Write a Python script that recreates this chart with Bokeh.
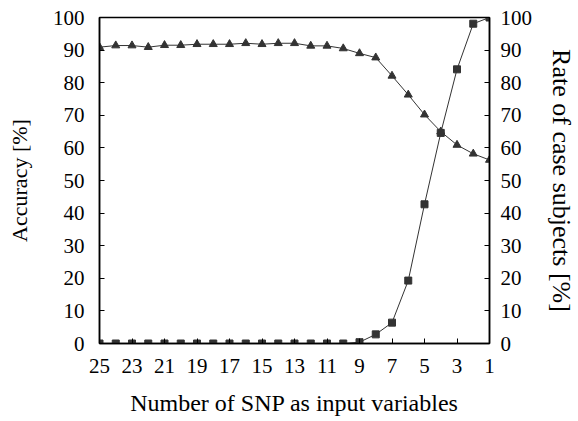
from bokeh.plotting import figure
from bokeh.models import Range1d, LinearAxis, FixedTicker
from bokeh.embed import file_html
from bokeh.resources import INLINE

snp = [25, 24, 23, 22, 21, 20, 19, 18, 17, 16, 15, 14, 13, 12, 11, 10, 9, 8, 7, 6, 5, 4, 3, 2, 1]
accuracy = [90.9, 91.4, 91.4, 90.9, 91.5, 91.5, 91.8, 91.8, 91.8, 92.1, 91.8, 92.1, 92.1, 91.3, 91.3,
            90.5, 89.0, 87.7, 82.1, 76.3, 70.2, 65.0, 60.9, 58.2, 56.3]
rate = [0, 0, 0, 0, 0, 0, 0, 0, 0, 0, 0, 0, 0, 0, 0, 0, 0.4, 2.8, 6.4, 19.3, 42.7, 64.6, 84.1, 98.1, 100]
x_ticks = [25, 23, 21, 19, 17, 15, 13, 11, 9, 7, 5, 3, 1]
y_ticks = [0, 10, 20, 30, 40, 50, 60, 70, 80, 90, 100]

FONT = "Liberation Serif"
INK = "#333333"
W, H = 578, 419
FL, FT, FW, FH = 99, 17, 390, 326   # frame placement on the canvas

p = figure(width=W, height=H, frame_width=FW, frame_height=FH,
           min_border_left=FL, min_border_right=W - FL - FW, min_border_top=FT,
           min_border_bottom=H - FT - FH,
           x_range=Range1d(25, 1), y_range=Range1d(0, 100),
           output_backend="svg", toolbar_location=None)
p.extra_y_ranges = {"right": Range1d(0, 100)}
p.grid.visible = False
p.outline_line_color = "black"
p.outline_line_width = 1.5
p.background_fill_color = "white"
p.border_fill_color = "white"

p.line(snp, accuracy, line_color=INK, line_width=1)
p.scatter(snp, accuracy, marker="triangle", size=8, fill_color=INK, line_color=INK)
p.line(snp, rate, line_color=INK, line_width=1, y_range_name="right")
p.scatter(snp, rate, marker="square", size=7, fill_color=INK, line_color=INK, y_range_name="right")

right = LinearAxis(y_range_name="right")
p.add_layout(right, "right")

for ax in [p.xaxis[0], p.yaxis[0], right]:
    ax.major_tick_in = 5
    ax.major_tick_out = 0
    ax.minor_tick_line_color = None
    ax.axis_line_width = 1.5
    ax.axis_line_color = "black"
    ax.major_tick_line_color = "black"
    ax.major_label_text_font = FONT
    ax.major_label_text_font_size = "21px"
    ax.major_label_text_color = "black"
    ax.axis_label_text_font = FONT
    ax.axis_label_text_font_style = "normal"
    ax.axis_label_text_color = "black"

p.xaxis[0].ticker = FixedTicker(ticks=x_ticks)
p.yaxis[0].ticker = FixedTicker(ticks=y_ticks)
right.ticker = FixedTicker(ticks=y_ticks)

p.xaxis[0].axis_label = "Number of SNP as input variables"
p.xaxis[0].axis_label_text_font_size = "24px"
p.xaxis[0].major_label_standoff = 15
p.xaxis[0].axis_label_standoff = 14

p.yaxis[0].axis_label = "Accuracy [%]"
p.yaxis[0].axis_label_text_font_size = "22px"
p.yaxis[0].major_label_standoff = 15
p.yaxis[0].axis_label_standoff = 18

right.axis_label = "Rate of case subjects [%]"
right.axis_label_text_font_size = "26px"
right.major_label_standoff = 11
right.axis_label_standoff = 12

open("out.html", "w").write(file_html(p, INLINE))
